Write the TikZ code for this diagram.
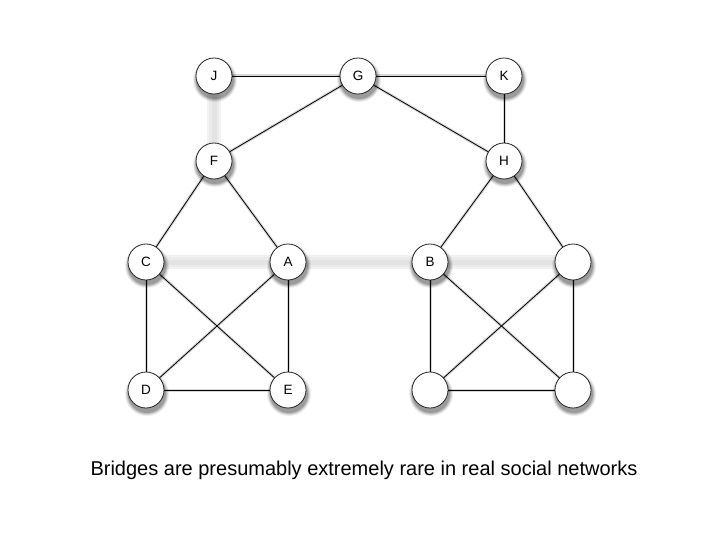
\documentclass[tikz,border=0pt]{standalone}
\usepackage{fontspec}
\setmainfont{Liberation Sans}
\begin{document}
\begin{tikzpicture}[x=1pt,y=-1pt,
  vtx/.style={circle, draw=black!85, line width=0.8pt, fill=white, minimum size=36pt, inner sep=0pt,
    font=\fontsize{13.5}{13.5}\selectfont},
  tie/.style={draw=black, line width=0.8pt},
  tieshadow/.style={draw=black!15, line width=3pt},
  weaka/.style={draw=black!5, line width=14pt},
  weakb/.style={draw=black!8, line width=10pt},
  weakc/.style={draw=black!11, line width=5pt}]
\useasboundingbox (0,0) rectangle (720,540);
\fill[white] (0,0) rectangle (720,540);
% coordinates
\coordinate (pJ) at (214,76);
\coordinate (pG) at (358,76);
\coordinate (pK) at (504,76);
\coordinate (pF) at (214,161);
\coordinate (pH) at (504,161);
\coordinate (pC) at (146,262);
\coordinate (pA) at (288,262);
\coordinate (pB) at (430,262);
\coordinate (pR) at (573,262);
\coordinate (pD) at (146,390);
\coordinate (pE) at (288,390);
\coordinate (pS) at (430,390);
\coordinate (pT) at (573,390);
% weak ties
\foreach \a/\b in {pJ/pF, pC/pA, pA/pB, pB/pR}{
  \draw[weaka] (\a) -- (\b);
  \draw[weakb] (\a) -- (\b);
  \draw[weakc] (\a) -- (\b);
}
% edge shadows
\begin{scope}[shift={(1,2.5)}]
\foreach \a/\b in {pJ/pG, pG/pK, pG/pF, pG/pH, pK/pH, pF/pC, pF/pA, pH/pB, pH/pR,
  pC/pD, pC/pE, pA/pD, pA/pE, pD/pE, pB/pS, pB/pT, pR/pS, pR/pT, pS/pT}{
  \draw[tieshadow] (\a) -- (\b);
}
\end{scope}
% node shadows
\foreach \p in {pJ,pG,pK,pF,pH,pC,pA,pB,pR,pD,pE,pS,pT}{
  \foreach \r/\o in {22/0.07, 21/0.09, 20/0.13, 19/0.17}{
    \fill[black, opacity=\o] ([shift={(1,4)}]\p) circle (\r);
  }
}
% nodes
\node[vtx] (J) at (pJ) {J};
\node[vtx] (G) at (pG) {G};
\node[vtx] (K) at (pK) {K};
\node[vtx] (F) at (pF) {F};
\node[vtx] (H) at (pH) {H};
\node[vtx] (C) at (pC) {C};
\node[vtx] (A) at (pA) {A};
\node[vtx] (B) at (pB) {B};
\node[vtx] (R) at (pR) {};
\node[vtx] (D) at (pD) {D};
\node[vtx] (E) at (pE) {E};
\node[vtx] (S) at (pS) {};
\node[vtx] (T) at (pT) {};
% edges
\foreach \a/\b in {J/G, G/K, G/F, G/H, K/H, F/C, F/A, H/B, H/R,
  C/D, C/E, A/D, A/E, D/E, B/S, B/T, R/S, R/T, S/T}{
  \draw[tie] (\a) -- (\b);
}
\node[font=\fontsize{20}{20}\selectfont] (cap) at (364,470) {Bridges are presumably extremely rare in real social networks};
\end{tikzpicture}
\end{document}
